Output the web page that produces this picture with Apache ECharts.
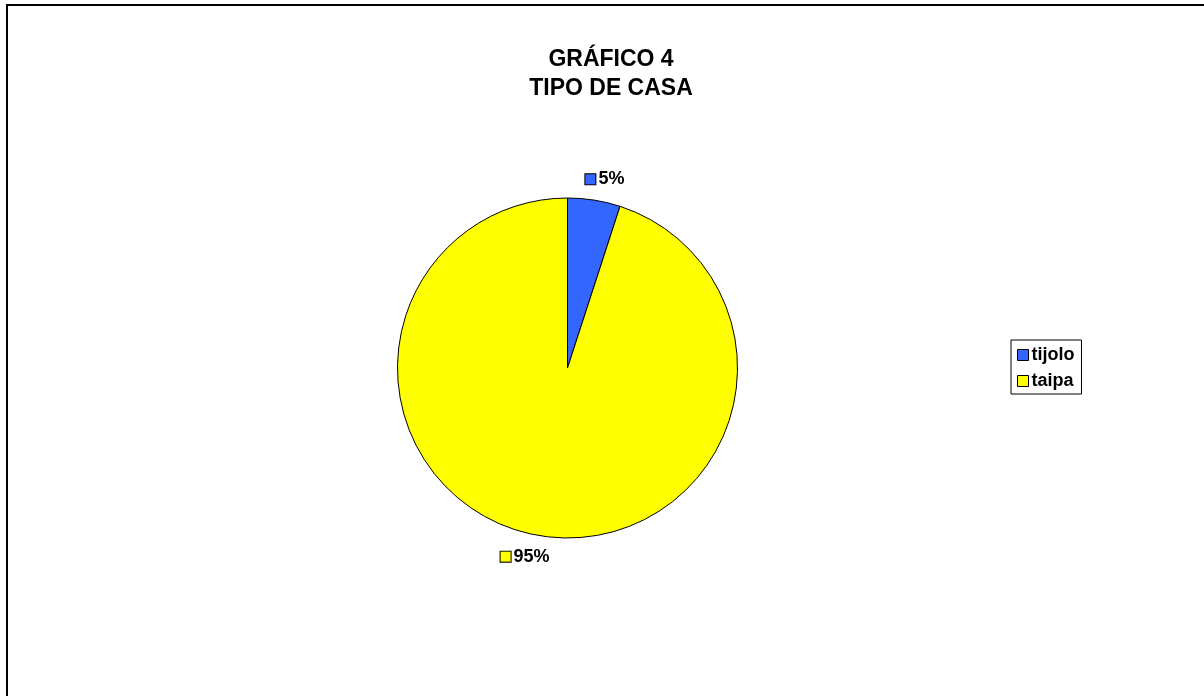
<!DOCTYPE html>
<html>
<head>
<meta charset="utf-8">
<script src="https://cdn.jsdelivr.net/npm/echarts@6/dist/echarts.min.js"></script>
<style>
  html, body { margin: 0; padding: 0; background: #fff; overflow: hidden; }
  #chart { position: absolute; left: 0; top: 0; width: 1204px; height: 696px; }
  #frame { position: absolute; left: 6px; top: 4px; width: 1400px; height: 900px;
           border: 2px solid #000; pointer-events: none; }
</style>
</head>
<body>
<div id="chart"></div>
<div id="frame"></div>
<script>
// Housing type shares (percent)
const categories = ['tijolo', 'taipa'];
const shares = [5, 95];
const sliceColors = ['#3366FF', '#FFFF00'];
const titleLines = ['GRÁFICO 4', 'TIPO DE CASA'];

const FONT = '"Liberation Sans", Arial, sans-serif';

const chart = echarts.init(document.getElementById('chart'), null, { renderer: 'canvas' });

const pieData = categories.map((name, i) => ({
  name: name,
  value: shares[i],
  itemStyle: { color: sliceColors[i] },
  label: {
    rich: {
      sq: {
        width: 10, height: 10,
        backgroundColor: sliceColors[i],
        borderColor: '#000', borderWidth: 1
      }
    }
  }
}));

chart.setOption({
  animation: false,
  backgroundColor: '#ffffff',
  title: {
    text: titleLines.join('\n'),
    left: 606,
    top: 40,
    textAlign: 'center',
    textStyle: {
      fontFamily: FONT,
      fontWeight: 'bold',
      fontSize: 23,
      lineHeight: 29,
      color: '#000'
    }
  },
  legend: {
    orient: 'vertical',
    left: 1011,
    top: 340,
    data: categories,
    icon: 'rect',
    itemWidth: 11,
    itemHeight: 11,
    itemGap: 8,
    padding: [6, 7, 4, 6],
    borderColor: '#000',
    borderWidth: 1,
    backgroundColor: '#fff',
    itemStyle: { borderColor: '#000', borderWidth: 1 },
    textStyle: {
      fontFamily: FONT,
      fontWeight: 'bold',
      fontSize: 18,
      color: '#000',
      padding: [0, 0, 0, -2]
    }
  },
  series: [{
    type: 'pie',
    center: [567.5, 368],
    radius: 170,
    startAngle: 90,
    clockwise: true,
    avoidLabelOverlap: false,
    data: pieData,
    itemStyle: { borderColor: '#000', borderWidth: 1 },
    label: {
      show: true,
      position: 'outside',
      formatter: '{sq|}{v|{d}%}',
      distanceToLabelLine: -12,
      rich: {
        v: {
          fontFamily: FONT,
          fontWeight: 'bold',
          fontSize: 18,
          color: '#000',
          padding: [0, 0, 0, 3]
        }
      }
    },
    labelLine: { show: false, length: 21, length2: 0 },
    emphasis: { disabled: true }
  }]
});
</script>
</body>
</html>
